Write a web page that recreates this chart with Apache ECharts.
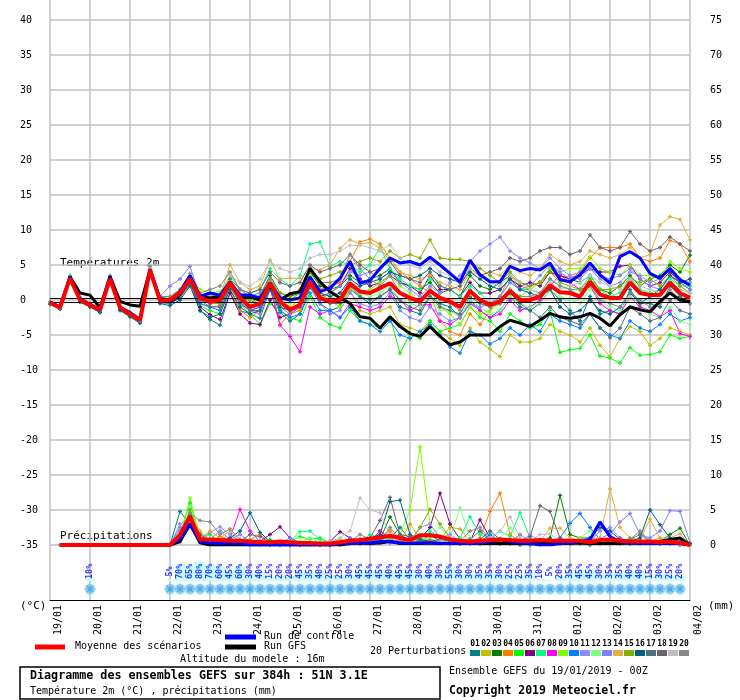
<!DOCTYPE html>
<html>
<head>
<meta charset="utf-8">
<script src="https://cdn.jsdelivr.net/npm/echarts@6/dist/echarts.min.js"></script>
<style>
  html, body { margin: 0; padding: 0; background: #fff; }
  #chart { width: 740px; height: 700px; }
</style>
</head>
<body>
<div id="chart"></div>
<script>
// one point every 6h, 0..384h -> 65 steps, one date label per day
const dateLabels = ['19/01','20/01','21/01','22/01','23/01','24/01','25/01','26/01','27/01',
  '28/01','29/01','30/01','31/01','01/02','02/02','03/02','04/02'];

const leftTicks = [-35,-30,-25,-20,-15,-10,-5,0,5,10,15,20,25,30,35,40];

// temperature 2m (°C)
const tempMean = [-0.4,-1.1,3.1,0.0, -0.7,-1.4,3.0,-1.1, -2.0,-2.9,4.3,-0.1, 0.0,1.0,3.0,0.3,
  -0.2,0.0,2.5,0.3, -1.0,-0.5,2.4,-0.2, -1.4,-0.7,2.6,0.3, -0.2,0.0,2.4,1.2, 1.0,1.7,2.4,1.0,
  0.3,-0.2,1.3,0.3, -0.2,-1.0,1.3,0.0, -0.7,-0.2,1.3,0.0, 0.0,0.5,2.1,1.1, 1.0,0.5,2.6,0.8,
  0.3,0.3,2.5,1.0, 0.7,0.7,2.5,1.0, 0.3];
const tempCtrl = [-0.3,-1.0,3.3,0.2, -0.6,-1.5,3.2,-1.0, -1.8,-2.8,4.4,0.2, 0.0,1.2,3.5,0.5,
  1.0,0.7,2.6,0.7, 0.7,0.3,2.4,0.3, 0.0,0.3,3.3,1.2, 1.7,3.1,5.5,2.4, 2.8,4.5,6.0,5.3,
  5.5,5.0,6.1,5.0, 3.8,2.6,5.7,3.6, 2.6,2.6,4.8,4.2, 4.5,4.3,5.3,2.9, 2.6,3.6,5.3,3.6,
  2.4,6.2,6.9,6.0, 3.8,3.1,4.5,2.9, 2.1];
const tempGfs = [-0.3,-1.0,3.3,1.0, 0.7,-1.1,3.4,-0.2, -0.7,-0.9,4.3,0.0, -0.2,0.8,3.3,0.5,
  0.3,0.5,2.4,0.5, 0.5,0.0,2.1,0.0, 0.9,1.2,4.5,2.6, 1.2,0.3,-0.5,-2.4, -2.6,-4.0,-2.4,-3.8,
  -4.8,-5.2,-3.8,-5.2, -6.4,-6.0,-5.0,-5.0, -5.0,-3.8,-2.9,-3.3, -3.8,-2.9,-1.9,-2.4,
  -2.6,-2.4,-1.9,-2.6, -3.7,-2.1,-1.0,-1.4, -1.7,-0.2,1.0,0.0, -0.2];

const tempPert = [
  [-0.5,-1.3,3.4,0.3, -0.8,-1.6,3.2,-0.9, -1.8,-2.8,4.4,0.0, -0.5,0.3,2.4,-1.5, -2.8,-3.6,1.0,-1.5, -2.0,-2.6,1.5,-1.8, -3.0,-2.0,1.8,-0.5, -1.5,-1.0,1.5,0.5, -0.5,0.5,1.5,-1.0, -1.5,-2.0,0.5,-0.5, -1.0,-2.5,0.0,-1.5, -2.5,-1.5,0.5,-1.0, -1.5,-0.5,1.5,0.0, -1.5,-3.0,0.5,-2.0, -1.5,-2.0,1.5,-0.5, -0.5,-1.0,2.0,0.5, -0.5],
  [-0.3,-1.2,3.0,-0.3, -1.0,-1.8,2.8,-1.3, -2.2,-3.0,4.1,-0.3, 0.3,1.3,3.2,0.5, 0.5,0.8,3.0,0.5, -0.5,0.0,2.8,0.5, -1.0,0.0,3.0,1.0, 0.0,-1.0,1.5,-1.5, -2.0,-1.5,-1.0,-3.5, -4.0,-4.5,-3.0,-4.5, -5.5,-6.5,-4.0,-6.0, -7.0,-8.1,-5.0,-6.0, -6.0,-5.5,-3.5,-4.5, -5.0,-6.0,-4.0,-6.5, -8.1,-5.5,-3.8,-4.5, -6.5,-5.5,-4.0,-4.5, -5.0],
  [-0.4,-1.0,3.2,0.2, -0.6,-1.3,3.1,-1.0, -1.9,-2.7,4.2,0.0, 0.2,1.2,3.3,0.2, -0.5,-0.3,2.2,0.8, -0.5,0.5,3.5,1.0, 0.5,1.0,4.0,2.0, 1.5,2.0,3.5,2.5, 3.0,3.5,4.5,2.5, 2.0,1.5,2.5,1.0, 1.5,0.5,3.5,2.0, 1.5,2.5,3.5,2.5, 2.0,2.5,4.5,3.5, 3.0,2.5,3.5,1.5, 1.0,2.0,3.5,2.0, 3.0,3.5,5.0,4.0, 6.4],
  [-0.5,-1.1,3.0,0.1, -0.7,-1.5,2.9,-1.2, -2.1,-3.0,4.3,-0.2, -0.3,0.5,2.0,-0.5, -1.0,-0.8,1.5,-1.5, -2.5,-1.5,2.5,-3.5, -2.0,-1.5,3.0,1.5, 2.0,2.5,5.5,8.3, 8.7,8.0,6.0,4.0, 3.0,2.0,1.0,-3.0, -4.5,-5.0,-2.0,-3.5, -1.5,0.5,3.5,2.0, 1.5,2.5,4.0,3.0, 3.5,4.0,6.0,7.5, 7.5,7.5,8.0,6.0, 5.5,6.0,8.5,8.0, 5.5],
  [-0.3,-1.2,3.2,-0.2, -0.9,-1.7,3.0,-1.3, -2.2,-3.1,4.3,-0.3, -0.3,0.5,2.5,-0.8, -1.5,-2.0,2.0,-0.5, -2.0,-3.5,-0.5,-1.5, -2.5,-3.0,0.5,-2.5, -3.5,-4.0,-1.5,-3.0, -3.5,-4.0,-2.4,-7.6, -4.8,-5.5,-3.0,-4.5, -4.0,-3.5,-1.0,-2.5, -3.0,-4.5,-2.0,-3.0, -4.0,-3.5,-1.5,-7.5, -7.1,-6.9,-5.0,-8.0, -8.3,-9.0,-6.8,-7.9, -7.8,-7.4,-5.0,-5.5, -5.2],
  [-0.5,-1.2,3.0,-0.1, -0.8,-1.5,2.9,-1.2, -2.1,-3.0,4.2,-0.2, -0.4,0.3,2.6,-1.0, -2.1,-2.8,1.0,-2.0, -3.3,-3.5,0.0,-2.5, -2.0,-1.0,2.0,0.5, 1.0,2.0,4.5,3.0, 2.0,2.5,3.5,2.5, 2.0,1.0,3.5,1.5, 1.5,0.5,2.5,1.0, 1.0,1.5,3.0,2.0, 2.5,2.0,4.0,3.5, 3.0,3.5,4.5,4.0, 4.0,4.8,5.0,3.0, 2.0,2.5,4.0,2.5, 1.5],
  [-0.3,-0.9,3.5,0.4, -0.5,-1.2,3.1,-0.9, -1.8,-2.7,4.4,0.2, 0.3,1.3,3.4,0.6, 0.5,0.8,3.5,1.5, 1.0,1.5,4.5,3.0, 2.0,3.5,8.0,8.3, 4.8,5.5,5.0,4.0, 5.0,7.6,4.5,3.0, 2.0,1.5,3.0,2.0, 1.5,0.5,2.0,1.0, -0.5,0.5,2.5,1.5, 1.5,1.0,3.0,2.0, 1.5,1.5,3.5,1.5, 0.5,1.0,3.0,1.5, 1.0,1.5,3.0,2.0, 2.0],
  [-0.4,-1.1,3.2,0.1, -0.7,-1.4,3.0,-1.1, -2.0,-2.9,4.3,-0.1, 0.0,0.8,2.8,0.0, -0.5,-0.5,2.0,0.0, -1.5,-1.0,1.7,-3.6, -5.2,-7.4,-1.0,-2.0, -1.5,-2.5,-0.5,-1.0, -1.5,-1.0,0.5,0.0, -1.5,-0.7,-0.7,-3.0, -3.5,-2.5,-0.5,-1.5, -2.5,-2.0,0.0,-1.5, -1.0,0.0,2.0,3.6, 2.5,1.5,2.0,-0.5, -1.5,-2.0,0.5,-1.0, -1.5,-2.4,-1.5,-4.8, -5.2],
  [-0.2,-1.0,3.3,0.2, -0.5,-1.3,3.2,-0.8, -1.8,-2.6,4.5,0.3, 0.5,1.5,3.5,1.5, 1.0,1.2,2.8,0.3, -0.5,0.0,2.0,-1.0, -1.5,-1.0,3.5,0.5, 0.0,-1.0,2.0,0.5, 1.5,2.5,3.5,2.0, 1.0,-0.5,1.5,-1.0, -2.0,-3.5,-1.0,-2.0, -1.5,-0.5,1.5,0.5, 1.5,2.5,4.5,4.0, 4.5,4.5,6.2,4.5, 4.0,3.5,5.0,3.5, 3.5,3.0,5.5,4.5, 4.0],
  [-0.5,-1.3,3.0,-0.2, -0.8,-1.6,2.8,-1.4, -2.3,-3.2,4.1,-0.4, -0.5,0.4,2.5,-0.5, -1.0,-1.5,2.0,-0.5, -1.5,-1.0,2.0,-1.5, -2.5,-2.0,1.0,-1.5, -1.5,-2.5,-1.0,-3.0, -3.5,-4.5,-3.0,-5.0, -5.5,-4.5,-3.5,-5.0, -6.7,-7.6,-4.5,-5.0, -6.3,-5.5,-4.0,-5.0, -3.5,-4.5,-2.0,-3.0, -3.5,-4.0,-2.0,-4.0, -5.0,-5.5,-3.0,-4.0, -4.5,-3.5,-2.0,-3.0, -2.5],
  [-0.4,-1.1,3.1,0.0, -0.7,-1.4,3.1,-1.0, -2.0,-2.8,4.4,0.0, 0.0,1.0,3.0,0.2, -0.5,0.0,2.0,-0.5, -1.0,-0.5,2.5,-0.5, -1.5,-0.5,2.0,0.0, 1.0,2.0,4.0,3.5, 4.0,3.0,4.0,2.5, 1.5,0.5,2.0,1.0, 2.5,3.5,5.5,7.0, 8.0,9.0,7.0,6.0, 5.3,4.5,6.0,4.5, 3.5,3.0,4.5,3.0, 2.0,2.5,4.0,3.5, 2.5,3.0,4.5,3.0, 2.5],
  [-0.4,-1.0,3.2,0.1, -0.6,-1.3,3.1,-1.0, -1.9,-2.8,4.3,0.0, 0.2,1.2,3.2,0.5, 0.0,0.5,2.5,0.5, -0.5,0.0,3.0,0.5, -0.5,0.5,3.0,1.0, 0.5,0.0,2.5,1.0, 0.5,1.0,2.0,0.0, -0.5,-1.0,0.5,-1.5, -1.5,-2.5,0.0,-1.0, -2.0,-1.5,0.5,-0.5, -1.0,-0.5,1.5,0.5, 0.0,-0.5,1.5,0.0, -1.0,-1.5,0.5,-0.5, -2.0,-2.5,-1.0,-3.0, -3.5],
  [-0.4,-1.1,3.1,0.0, -0.7,-1.4,3.0,-1.1, -2.0,-2.9,4.3,0.5, 2.0,3.0,4.8,0.5, -0.5,-0.5,2.5,0.0, -1.5,-2.0,1.5,-1.0, -2.0,-1.0,2.0,-0.5, -2.0,-1.5,1.0,-0.5, -1.0,-0.5,1.0,-1.5, -2.5,-3.0,-1.0,-2.0, -3.0,-2.5,-0.5,-1.0, -0.5,0.5,2.5,1.5, 2.0,3.5,5.0,4.0, 3.0,4.0,4.5,3.5, 3.0,3.5,4.5,3.0, 2.0,1.5,3.5,2.5, 1.5],
  [-0.3,-1.0,3.3,0.2, -0.6,-1.2,3.2,-0.8, -1.8,-2.7,4.5,0.1, 0.3,1.2,3.4,0.8, 0.5,0.5,5.0,2.5, 1.5,2.0,5.7,3.0, 3.1,3.1,4.5,4.3, 5.0,7.4,8.6,8.0, 8.2,7.5,5.5,4.0, 3.5,3.0,3.5,2.5, 2.0,1.5,4.0,3.5, 4.0,3.5,5.0,4.0, 3.5,4.5,6.5,5.5, 5.0,5.5,7.0,6.5, 6.0,6.5,7.5,6.0, 6.5,10.7,11.9,11.5, 8.6],
  [-0.5,-1.2,3.0,-0.1, -0.8,-1.5,2.9,-1.2, -2.1,-3.0,4.2,-0.2, -0.2,0.8,2.8,0.0, -0.5,-0.5,2.3,0.5, 0.0,0.5,3.0,1.0, 0.5,1.5,4.0,3.0, 3.5,4.0,5.0,5.5, 6.0,5.5,7.0,6.0, 6.5,6.0,8.6,6.0, 5.8,5.8,5.5,4.5, 3.5,2.5,4.0,2.5, 2.0,2.5,4.0,2.5, 2.0,1.5,3.0,1.5, 1.5,2.0,3.0,2.5, 3.0,2.0,3.5,2.0, 1.0],
  [-0.6,-1.3,2.9,-0.3, -1.0,-1.8,2.7,-1.5, -2.4,-3.3,4.0,-0.5, -0.8,0.0,2.0,-1.5, -2.5,-2.0,1.5,-1.0, -2.0,-1.5,1.5,-1.0, -1.5,-0.5,2.5,1.0, 0.5,1.0,3.0,2.0, 2.5,3.0,4.0,3.5, 3.0,3.5,4.5,3.5, 3.0,2.5,4.0,3.0, 2.0,1.5,3.0,1.5, 1.0,0.5,1.5,-1.0, -2.0,-1.5,0.0,-1.5, -2.0,-1.0,1.0,-0.5, 0.5,1.5,3.5,2.5, 3.0],
  [-0.4,-1.2,3.1,0.0, -0.7,-1.5,3.0,-1.1, -2.0,-3.0,4.3,-0.1, 0.0,0.8,2.9,0.0, -1.0,-1.0,2.0,-0.5, -1.5,-1.5,2.0,-0.5, -1.5,-1.0,2.0,0.0, -0.5,-0.5,2.0,0.5, 0.0,0.5,1.5,0.0, -1.0,-1.5,0.5,-1.0, -1.5,-2.0,0.5,-0.5, -1.0,-0.5,1.0,-0.5, -1.5,-2.5,-1.0,-2.5, -3.0,-3.5,-2.0,-4.0, -5.4,-4.0,-1.0,-2.0, -3.0,-2.5,0.0,-1.5, -2.0],
  [-0.3,-1.0,3.3,0.2, -0.6,-1.3,3.2,-1.0, -1.9,-2.8,4.4,0.0, 0.2,1.0,3.0,0.3, -0.5,0.5,3.0,1.5, 1.0,1.5,4.0,2.5, 2.0,2.5,5.0,4.0, 4.5,5.0,6.5,5.0, 4.0,4.5,5.5,3.5, 3.0,2.5,4.0,2.0, 1.5,2.0,4.5,3.5, 4.0,4.5,6.0,5.5, 6.0,7.0,7.5,7.5, 6.5,7.0,9.3,7.5, 7.0,7.5,9.8,8.0, 7.0,7.5,9.0,8.0, 7.0],
  [-0.4,-1.1,3.2,0.1, -0.7,-1.4,3.1,-1.0, -2.0,-2.9,4.4,0.1, 0.0,0.8,2.8,0.3, 0.0,0.5,3.5,2.5, 2.0,3.0,5.5,4.5, 4.0,4.5,6.0,6.5, 6.5,7.0,7.8,7.8, 7.5,7.0,7.9,6.0, 5.0,4.5,5.5,4.0, 3.5,3.0,4.5,3.5, 2.5,2.0,3.5,2.5, 1.5,1.0,2.5,1.5, 2.0,2.5,3.5,2.5, 2.0,1.5,3.0,2.0, 1.5,1.0,2.5,1.5, 1.0],
  [-0.5,-1.2,3.4,0.0, -0.7,-1.5,3.5,-1.0, -2.0,-2.9,4.8,0.5, 0.5,1.5,3.8,1.0, 1.5,2.0,4.0,1.5, 0.5,1.0,3.0,0.5, 0.0,1.0,4.5,2.5, 2.5,3.0,6.5,4.5, 3.0,2.0,3.5,1.0, 0.0,-0.5,1.5,0.0, -0.5,-1.5,1.5,0.0, -1.0,-0.5,1.5,0.5, 0.5,1.0,3.0,2.0, 1.5,0.5,2.0,0.0, -0.5,-1.0,1.0,0.0, -1.0,-0.5,1.5,0.0, -0.5]
];

// precipitation (mm per 6h), no value at the run start
const precipMean = [null,0,0,0, 0,0,0,0, 0,0,0,0, 0,1.4,4.1,0.8, 0.8,0.7,0.6,0.6, 0.5,0.4,0.4,0.5,
  0.4,0.3,0.3,0.2, 0.2,0.4,0.6,0.7, 0.9,1.1,1.3,1.0, 0.7,1.4,1.4,1.2, 0.8,0.6,0.5,0.6,
  0.7,0.8,0.7,0.6, 0.6,0.7,0.6,0.6, 0.6,0.6,0.4,0.7, 0.8,0.6,0.5,0.5, 0.5,0.4,0.5,0.3, 0.0];
const precipCtrl = [null,0,0,0, 0,0,0,0, 0,0,0,0, 0,0.8,3.0,0.5, 0.3,0.2,0.3,0.2, 0,0,0,0,
  0,0,0,0, 0,0.2,0.2,0.3, 0.3,0.5,0.5,0.3, 0.2,0.3,0.3,0.2, 0.2,0.2,0.2,0.3,
  0.5,0.8,0.5,0.3, 0.2,0,0,0.2, 0.3,0.5,0.8,3.3, 1.2,0.5,0.3,0.2, 0.2,0.2,0.2,0.2, 0];
const precipGfs = [null,0,0,0, 0,0,0,0, 0,0,0,0, 0,0.5,3.0,0.3, 0,0,0,0, 0,0,0,0,
  0,0,0,0, 0,0,0.2,0.3, 0.2,0.3,0.5,0.2, 0.2,0.2,0.3,0.2, 0.2,0.2,0.2,0.2,
  0.2,0.2,0.2,0.2, 0.2,0.2,0.3,0.2, 0.2,0.3,0.2,0.2, 0.2,0.2,0.3,0.2, 0.2,0.5,0.8,1.0, 0];

const precipPert = [
  [null,0,0,0, 0,0,0,0, 0,0,0,0, 0,4.8,3.0,0.5, 0.3,0.2,0.3,0.5, 0.3,0.2,0,0, 0,0,0.2,0, 0,0.2,0.3,0.5, 0.5,2.0,1.0,2.5, 0.8,0.5,1.5,0.5, 0.3,0.2,0.2,0.3, 0.2,0.3,0.2,0, 0,0.3,0.2,0.4, 0.3,0.2,0,0.3, 0.5,0.3,0.2,0.2, 0.3,0.2,0.3,0, 0],
  [null,0,0,0, 0,0,0,0, 0,0,0,0, 0,1.0,4.5,2.0, 0.5,0.3,0.2,0.3, 0.2,0,0.3,0.2, 0,0,0,0.2, 0.3,0.8,0.5,0.2, 0.3,0.5,0.4,0.6, 3.0,1.0,0.5,0.8, 2.5,2.3,0.5,0.3, 0.2,0.2,0.3,0.2, 0.2,0,0.2,0.3, 0.2,0.3,0.2,0.2, 0.2,0.2,0.3,0.2, 0.2,0.2,0.2,0.3, 0],
  [null,0,0,0, 0,0,0,0, 0,0,0,0, 0,0.8,4.5,0.5, 0.2,0.2,0.3,0.2, 0.2,0.3,0.2,0, 0,0,0.2,0, 0,0.2,0.2,0.3, 0.5,0.8,4.0,1.5, 0.5,0.8,0.4,0.3, 0.2,0.2,0.3,0.2, 0.3,0.2,0.2,0.2, 0.3,0.5,1.0,7.1, 1.5,1.0,1.0,0.5, 0.3,0.2,0.3,0.2, 0.3,0.5,1.5,2.4, 0],
  [null,0,0,0, 0,0,0,0, 0,0,0,0, 0,0.5,4.0,0.8, 0.5,1.2,0.8,0.5, 0.8,1.5,0.3,0.2, 0,0,0.2,0.2, 0,0,0.2,0.3, 0.5,0.8,2.0,0.8, 0.3,0.5,0.4,0.5, 0.3,0.2,0.5,1.0, 4.8,7.4,1.5,0.5, 0.3,0.2,0.2,0.2, 0.2,0.2,0.3,0.2, 0.2,0.3,0.2,0.3, 0.5,1.0,0.3,0.2, 0],
  [null,0,0,0, 0,0,0,0, 0,0,0,0, 0,1.5,6.0,0.8, 1.5,0.5,0.3,0.3, 0.2,0.3,0.8,0.3, 0.5,1.2,0.8,1.0, 0.3,0.2,0.2,0.3, 0.3,0.5,0.5,0.3, 0.5,0.8,0.5,0.5, 0.3,0.5,0.3,0.2, 0.2,0.3,0.2,0.2, 0.2,0.3,0.2,0.3, 0.2,0.3,0.3,0.2, 0.3,0.5,1.0,0.3, 0.2,0.3,0.2,0.2, 0],
  [null,0,0,0, 0,0,0,0, 0,0,0,0, 0,0.8,3.5,1.5, 0.5,0.3,0.2,0.5, 0.3,0.5,1.5,2.6, 1.0,0.3,0.2,0.2, 0.5,1.9,1.0,0.3, 0.2,0.3,0.5,0.3, 0.5,0.8,2.5,7.4, 3.0,0.8,0.5,3.6, 1.0,0.3,0.2,0.2, 0.2,0.2,0.3,0.2, 0.2,0.3,0.2,0.2, 0.3,0.2,0.2,0.3, 0.2,0.2,0.3,0.2, 0],
  [null,0,0,0, 0,0,0,0, 0,0,0,0, 0,0.5,5.0,1.0, 0.5,0.3,0.5,0.3, 0.3,0.2,0.2,0.3, 0.5,1.9,2.0,0.8, 0.3,0.2,0.3,0.5, 1.5,1.0,0.8,0.5, 0.5,0.8,2.0,1.0, 0.5,1.0,4.0,1.5, 0.8,2.0,1.2,4.6, 1.0,0.3,0.2,0.3, 0.2,0.3,0.2,0.2, 0.2,0.3,0.2,0.2, 0.3,0.2,0.3,0.2, 0],
  [null,0,0,0, 0,0,0,0, 0,0,0,0, 0,0.8,3.5,0.8, 0.5,0.8,1.0,5.1, 2.0,0.5,0.3,0.2, 0.2,0.2,0.2,0, 0,0.2,0.3,0.2, 0.5,2.0,0.8,0.5, 0.3,0.5,0.3,0.2, 0.2,0.3,0.2,0.2, 0.2,0.3,0.2,0.2, 0.2,0.2,0.3,0.2, 0.2,0.3,0.5,0.3, 0.5,1.0,0.3,0.2, 0.2,0.2,0.2,0.2, 0],
  [null,0,0,0, 0,0,0,0, 0,0,0,0, 0,1.0,6.7,1.0, 0.5,0.3,0.3,0.2, 0.2,0.3,0.2,0.2, 0.2,0.5,0.3,0.2, 0.2,0.3,0.3,0.5, 1.0,0.5,0.8,1.5, 5.0,14.0,3.0,1.0, 0.5,0.3,0.3,0.2, 0.3,0.2,0.3,0.2, 0.2,0.3,0.2,0.3, 0.2,0.2,0.3,0.2, 0.3,0.2,0.5,0.2, 0.2,0.3,0.2,0.2, 0],
  [null,0,0,0, 0,0,0,0, 0,0,0,0, 0,0.8,4.2,0.8, 0.3,0.2,0.3,0.3, 0.2,0.2,0.3,0.2, 0,0,0.2,0.2, 0,0.2,0.3,0.3, 0.5,0.5,0.8,1.5, 0.5,0.5,0.8,0.5, 0.3,0.5,0.3,0.5, 1.5,0.5,0.3,0.2, 0.3,0.2,0.5,1.0, 3.1,4.5,2.5,0.8, 0.5,0.3,0.2,0.3, 0.2,0.2,0.3,0.2, 0],
  [null,0,0,0, 0,0,0,0, 0,0,0,0, 0,3.0,3.8,0.8, 1.8,2.6,1.5,0.5, 0.3,0.2,0.2,0.3, 0.2,0.2,0.2,0.2, 0.5,0.3,0.2,0.3, 0.5,0.8,0.5,0.3, 0.5,2.5,3.0,1.0, 1.5,0.5,0.3,0.2, 0.3,0.2,0.3,0.5, 1.5,0.5,0.3,0.2, 0.3,0.2,0.5,2.0, 2.5,1.0,0.5,0.3, 0.2,0.3,0.2,0.3, 0],
  [null,0,0,0, 0,0,0,0, 0,0,0,0, 0,0.8,5.5,1.0, 0.3,0.2,0.3,0.2, 0.2,0.3,0.2,0.2, 0.2,0.5,1.0,0.3, 0.2,0.2,0.2,0.3, 0.5,0.3,0.5,1.0, 0.5,0.8,1.0,2.5, 1.0,5.3,1.0,0.5, 0.3,1.0,2.5,0.5, 0.3,0.2,0.3,0.2, 0.5,1.0,2.0,0.5, 0.3,0.2,0.3,0.2, 0.2,0.2,0.3,0.2, 0],
  [null,0,0,0, 0,0,0,0, 0,0,0,0, 0,2.5,3.0,0.5, 0.8,2.0,0.8,1.5, 0.5,0.3,0.2,0.3, 1.0,0.3,0.2,0.2, 0.2,0.3,1.0,0.5, 0.3,0.5,0.3,0.3, 0.2,0.5,0.3,0.3, 0.2,0.3,0.2,0.2, 0.3,0.2,0.2,0.3, 0.2,0.2,0.3,0.5, 0.3,0.5,0.8,1.0, 1.5,3.3,4.5,1.5, 1.0,2.0,4.9,4.8, 0.3],
  [null,0,0,0, 0,0,0,0, 0,0,0,0, 0,0.5,3.5,1.0, 2.0,1.0,2.0,0.5, 0.3,0.5,0.3,0.2, 0.2,0.2,0.2,0.2, 0.2,0.3,0.2,0.3, 0.3,0.5,0.8,0.3, 0.3,0.5,0.8,0.5, 0.3,0.2,0.3,0.2, 0.3,0.2,0.3,0.2, 0.3,0.5,2.4,2.4, 1.0,0.5,0.8,1.0, 8.0,2.5,1.0,0.8, 3.7,1.0,1.0,1.6, 0.2],
  [null,0,0,0, 0,0,0,0, 0,0,0,0, 0,0.8,5.0,0.8, 0.3,0.3,0.5,0.3, 0.2,0.2,0.3,0.2, 0.2,0.2,0.3,0.2, 0.2,0.2,0.3,0.2, 0.3,0.5,0.5,0.3, 0.5,2.5,5.1,3.0, 1.0,0.5,0.3,0.3, 0.2,0.3,0.2,0.2, 0.3,0.2,0.3,0.2, 0.2,0.2,0.3,0.2, 0.3,0.2,0.2,0.3, 0.2,0.2,0.2,0.3, 0],
  [null,0,0,0, 0,0,0,0, 0,0,0,0, 0,1.0,3.8,1.0, 0.5,0.5,1.0,2.0, 4.6,1.8,0.5,0.3, 0.2,0.2,0.3,0.2, 0.2,0.3,0.5,0.8, 1.0,1.5,6.2,6.4, 1.5,0.8,0.5,0.3, 0.3,0.2,0.3,0.2, 0.3,0.2,0.3,0.2, 0.2,0.3,0.2,0.3, 0.3,0.5,1.0,2.5, 2.0,0.8,0.5,1.0, 5.0,2.9,1.0,0.5, 0.2],
  [null,0,0,0, 0,0,0,0, 0,0,0,0, 0,0.8,4.2,0.8, 0.3,0.2,0.5,0.5, 1.5,1.2,0.3,0.2, 0.2,0.2,0.2,0.3, 0.2,0.2,0.3,0.3, 0.5,0.8,0.5,0.5, 0.3,0.5,0.5,0.8, 0.5,0.5,0.8,2.0, 0.8,0.3,0.3,0.2, 0.2,0.3,0.2,0.3, 0.2,0.3,0.2,0.3, 0.3,0.5,0.8,1.5, 0.5,0.3,0.2,0.3, 0],
  [null,0,0,0, 0,0,0,0, 0,0,0,0, 0,1.0,4.0,1.5, 0.5,0.3,0.5,0.3, 0.3,0.2,0.2,0.2, 0.2,0.2,0.3,0.2, 0.2,0.3,0.5,0.8, 1.0,3.5,6.8,1.5, 1.2,0.5,0.5,0.3, 0.3,0.3,0.5,0.8, 2.0,0.8,0.3,0.3, 1.2,5.6,4.8,1.0, 0.5,0.3,0.3,0.2, 0.3,0.2,0.3,0.2, 0.3,0.2,0.3,0.3, 0],
  [null,0,0,0, 0,0,0,0, 0,0,0,0, 0,0.5,2.5,0.8, 0.3,0.2,0.3,0.2, 0.2,0.2,0.2,0.3, 0.3,0.2,0.3,0.3, 0.5,1.0,2.0,6.7, 5.0,4.6,1.5,0.8, 0.5,0.3,0.3,0.5, 0.3,0.5,0.3,0.5, 1.0,2.0,4.0,1.0, 0.5,1.5,1.6,0.5, 0.3,0.2,0.3,0.2, 0.3,0.2,0.3,0.2, 0.2,0.3,0.2,0.2, 0],
  [null,0,0,0, 0,0,0,0, 0,0,0,0, 0,2.0,4.5,3.5, 3.3,1.5,2.3,0.8, 0.5,0.3,0.2,0.3, 0.2,0.2,0.3,0.2, 0.2,0.3,0.5,1.5, 0.8,0.5,2.5,0.8, 0.5,0.3,0.5,0.3, 0.3,0.5,2.0,2.5, 0.8,0.5,0.3,1.5, 0.5,0.3,0.2,0.3, 0.2,0.3,0.2,0.3, 0.3,0.5,0.8,2.0, 0.5,0.3,0.2,0.3, 0]
];

// probability of precipitation (%) per 6h step, snow symbol shown where set
const precipProb = [null,null,null,null, 10,null,null,null, null,null,null,null,
  5,70,65,80, 70,60,45,60, 30,40,15,20, 20,45,35,40, 25,25,30,45, 45,45,40,45,
  45,30,40,30, 55,30,30,35, 35,30,25,25, 35,10,5,20, 35,45,45,30, 35,35,40,40,
  15,30,25,20, null];

const pertColors = ['#008080','#c0c000','#008000','#ff8000','#00ff00','#800080','#00ff80',
  '#ff00ff','#80ff00','#0080ff','#8c8cff','#80ff80','#8080ff','#e0b040','#80b000',
  '#006080','#507080','#706070','#c0c0c0','#888888'];

const MONO = "'DejaVu Sans Mono', monospace";
const plus = 'path://M1,0H2V1H3V2H2V3H1V2H0V1H1Z';
const flake = 'path://M4,0H5V3L7,1L8,2L6,4H9V5H6L8,7L7,8L5,6V9H4V6L2,8L1,7L3,5H0V4H3L1,2L2,1L4,3Z';
const pairs = (arr) => arr.map((v, i) => [i, v]);

const chart = echarts.init(document.getElementById('chart'), null, { renderer: 'canvas' });

const series = [];
tempPert.forEach((arr, k) => {
  series.push({
    type: 'line', xAxisIndex: 0, yAxisIndex: 0, data: pairs(arr),
    symbol: plus, symbolSize: 4, showSymbol: true,
    lineStyle: { width: 1, color: pertColors[k] }, itemStyle: { color: pertColors[k] },
    z: 2, silent: true
  });
});
precipPert.forEach((arr, k) => {
  series.push({
    type: 'line', xAxisIndex: 0, yAxisIndex: 1, data: pairs(arr),
    symbol: plus, symbolSize: 4, showSymbol: true,
    lineStyle: { width: 1, color: pertColors[k] }, itemStyle: { color: pertColors[k] },
    z: 2, silent: true
  });
});
function thick(arr, yIdx, color, width, z) {
  return {
    type: 'line', xAxisIndex: 0, yAxisIndex: yIdx, data: pairs(arr),
    symbol: 'none', lineStyle: { width, color }, itemStyle: { color }, z, silent: true
  };
}
const gfsT = thick(tempGfs, 0, '#000000', 3, 3);
gfsT.markLine = {
  silent: true, symbol: 'none', label: { show: false },
  lineStyle: { color: '#000', width: 1, type: 'solid' },
  data: [{ yAxis: 0.2 }, { yAxis: -0.25 }]
};
series.push(gfsT, thick(precipGfs, 1, '#000000', 3, 3));
series.push(thick(tempCtrl, 0, '#0000ff', 3, 4), thick(precipCtrl, 1, '#0000ff', 3, 4));
series.push(thick(tempMean, 0, '#ff0000', 4, 5), thick(precipMean, 1, '#ff0000', 4, 5));

// probability strip under the plot
series.push({
  type: 'bar', xAxisIndex: 1, yAxisIndex: 2, barWidth: 10,
  data: pairs(precipProb), itemStyle: { color: '#c4ffff' }, z: 1, silent: true
});
series.push({
  type: 'scatter', xAxisIndex: 1, yAxisIndex: 2, symbol: 'circle', symbolSize: 11,
  data: precipProb.map((p, i) => p == null ? [i, null] : [i, -34]),
  itemStyle: { color: '#86d4f5' }, z: 2, silent: true
});
series.push({
  type: 'scatter', xAxisIndex: 1, yAxisIndex: 2, symbol: flake, symbolSize: 9,
  data: precipProb.map((p, i) => p == null ? [i, null] : [i, -34]),
  itemStyle: { color: '#3c9be0' }, z: 3, silent: true
});
series.push({
  type: 'scatter', xAxisIndex: 1, yAxisIndex: 2, symbolSize: 0,
  data: precipProb.map((p, i) => p == null ? [i, null, ''] : [i, 40, p + '%']),
  label: {
    show: true, position: 'inside', rotate: 90, formatter: (d) => d.data[2],
    color: '#0000ff', fontSize: 8.5, fontWeight: 'bold', fontFamily: MONO
  },
  z: 4, silent: true
});

const gridLine = { color: '#c0c0c0', width: 1.5 };

const graphic = [
  { type: 'text', left: 60, top: 258, style: { text: 'Températures 2m', font: `11px ${MONO}`, fill: '#000' } },
  { type: 'text', left: 60, top: 531, style: { text: 'Précipitations', font: `11px ${MONO}`, fill: '#000' } },
  { type: 'text', left: 20, top: 601, style: { text: '(°C)', font: `11px ${MONO}`, fill: '#000' } },
  { type: 'text', left: 708, top: 601, style: { text: '(mm)', font: `11px ${MONO}`, fill: '#000' } },
  { type: 'line', shape: { x1: 225, y1: 637, x2: 256, y2: 637 }, style: { stroke: '#0000ff', lineWidth: 5 } },
  { type: 'text', left: 264, top: 631, style: { text: 'Run de contrôle', font: `10px ${MONO}`, fill: '#000' } },
  { type: 'line', shape: { x1: 35, y1: 647, x2: 65, y2: 647 }, style: { stroke: '#ff0000', lineWidth: 5 } },
  { type: 'text', left: 75, top: 641, style: { text: 'Moyenne des scénarios', font: `10px ${MONO}`, fill: '#000' } },
  { type: 'line', shape: { x1: 225, y1: 647, x2: 256, y2: 647 }, style: { stroke: '#000000', lineWidth: 5 } },
  { type: 'text', left: 264, top: 641, style: { text: 'Run GFS', font: `10px ${MONO}`, fill: '#000' } },
  { type: 'text', left: 180, top: 654, style: { text: 'Altitude du modele : 16m', font: `10px ${MONO}`, fill: '#000' } },
  { type: 'text', left: 370, top: 646, style: { text: '20 Perturbations', font: `10px ${MONO}`, fill: '#000' } },
  { type: 'rect', shape: { x: 20, y: 667, width: 420, height: 32 }, style: { fill: 'none', stroke: '#000', lineWidth: 1.5 } },
  { type: 'text', left: 30, top: 670, style: { text: 'Diagramme des ensembles GEFS sur 384h : 51N 3.1E', font: `bold 11.7px ${MONO}`, fill: '#000' } },
  { type: 'text', left: 30, top: 686, style: { text: 'Température 2m (°C) , précipitations (mm)', font: `10px ${MONO}`, fill: '#000' } },
  { type: 'text', left: 449, top: 666, style: { text: 'Ensemble GEFS du 19/01/2019 - 00Z', font: `10px ${MONO}`, fill: '#000' } },
  { type: 'text', left: 449, top: 685, style: { text: 'Copyright 2019 Meteociel.fr', font: `bold 11.5px ${MONO}`, fill: '#000' } }
];
pertColors.forEach((c, k) => {
  const x = 470 + k * 11;
  graphic.push({ type: 'rect', shape: { x, y: 650, width: 10, height: 6 }, style: { fill: c } });
  graphic.push({
    type: 'text', x: x + 5, y: 644,
    style: { text: String(k + 1).padStart(2, '0'), font: `bold 8px ${MONO}`, fill: '#000', align: 'center', verticalAlign: 'middle' }
  });
});

chart.setOption({
  animation: false,
  backgroundColor: '#ffffff',
  textStyle: { fontFamily: MONO },
  grid: [
    { left: 50, top: 0, width: 640, height: 545 },
    { left: 50, top: 545, width: 640, height: 55 }
  ],
  xAxis: [
    {
      gridIndex: 0, type: 'value', min: 0, max: 64, interval: 4,
      axisLine: { show: false }, axisTick: { show: false }, axisLabel: { show: false },
      splitLine: { show: true, lineStyle: gridLine }
    },
    {
      gridIndex: 1, type: 'value', min: 0, max: 64, interval: 4,
      axisLine: { show: true, onZero: false, lineStyle: { color: '#000', width: 1 } },
      axisTick: { show: false },
      splitLine: { show: true, lineStyle: gridLine },
      axisLabel: {
        show: true, rotate: 90, margin: 5, align: 'right', verticalAlign: 'top', padding: [3, 0, 0, 0],
        formatter: (v) => dateLabels[v / 4] || '', fontSize: 10, fontFamily: MONO, color: '#000',
        showMinLabel: true, showMaxLabel: true
      }
    }
  ],
  yAxis: [
    {
      gridIndex: 0, type: 'value', position: 'left', min: leftTicks[0], max: 40 + 20 / 7, interval: 5,
      axisLine: { show: false }, axisTick: { show: false },
      axisLabel: {
        margin: 30, align: 'left', fontSize: 10, fontFamily: MONO, color: '#000', showMaxLabel: false,
        formatter: (v) => leftTicks.includes(v) ? String(v) : ''
      },
      splitLine: { show: true, showMaxLine: false, lineStyle: gridLine }
    },
    {
      gridIndex: 0, type: 'value', position: 'right', min: 0, max: 75 + 20 / 7, interval: 5,
      axisLine: { show: false }, axisTick: { show: false },
      axisLabel: {
        margin: 20, align: 'left', fontSize: 10, fontFamily: MONO, color: '#000', showMaxLabel: false,
        formatter: (v) => (v <= 75 && v % 5 === 0) ? String(v) : ''
      },
      splitLine: { show: false }
    },
    { gridIndex: 1, type: 'value', min: -80, max: 151, show: false, splitLine: { show: false } }
  ],
  series,
  graphic
});
</script>
</body>
</html>
